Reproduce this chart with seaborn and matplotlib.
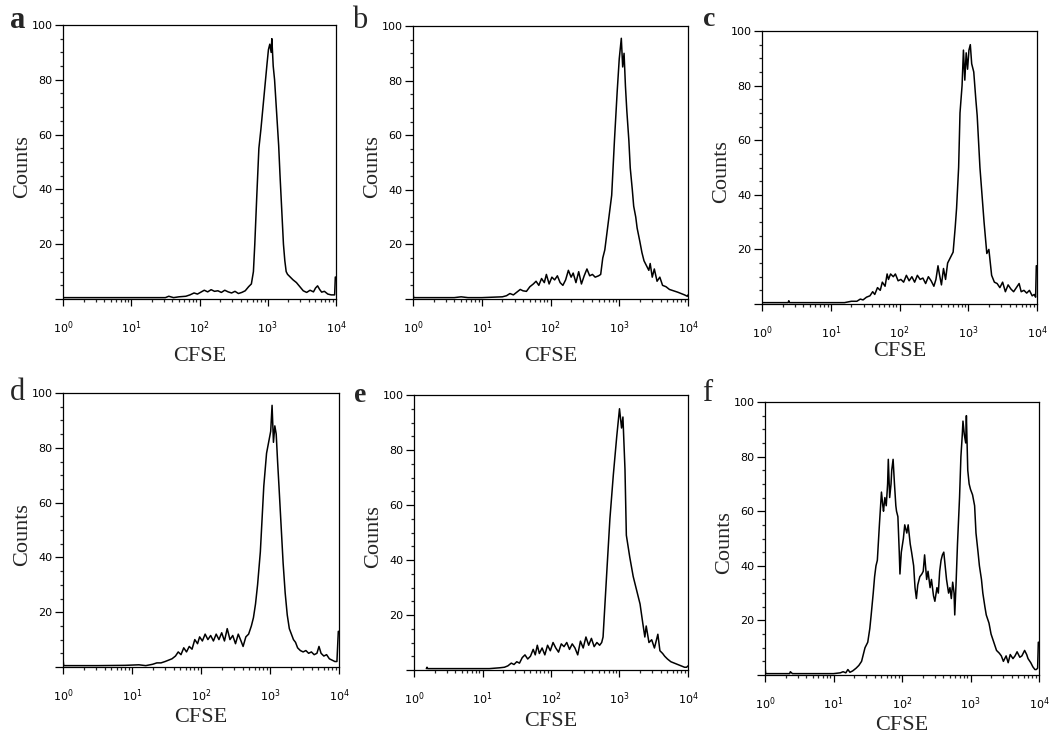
import numpy as np
import matplotlib
matplotlib.use('Agg')
import matplotlib.pyplot as plt
import seaborn as sns
from matplotlib.ticker import FixedLocator, NullFormatter

# CFSE channel given in decades (log10 of intensity), counts
a_log = [0.00, 1.50, 1.55, 1.62, 1.70, 1.80, 1.86, 1.92, 1.97, 2.02,
         2.07, 2.12, 2.17, 2.22, 2.27, 2.32, 2.37, 2.42, 2.47, 2.52,
         2.57, 2.62, 2.67, 2.72, 2.76, 2.79, 2.81, 2.84, 2.87, 2.90,
         2.93, 2.96, 2.99, 3.01, 3.03, 3.05, 3.06, 3.08, 3.10, 3.13,
         3.16, 3.18, 3.21, 3.23, 3.25, 3.27, 3.29, 3.33, 3.37, 3.42,
         3.47, 3.52, 3.57, 3.62, 3.67, 3.70, 3.73, 3.76, 3.79, 3.83,
         3.88, 3.93, 3.98, 3.99, 4.00]
a_counts = [0.5, 0.5, 1.0, 0.5, 0.8, 1.0, 1.5, 2.2, 1.8, 2.5,
            3.2, 2.6, 3.4, 2.8, 3.0, 2.4, 3.2, 2.6, 2.2, 2.8,
            2.0, 2.4, 3.0, 4.5, 5.5, 10.0, 20.0, 38.0, 55.0, 62.0,
            70.0, 78.0, 86.0, 91.0, 93.0, 90.0, 95.0, 85.0, 80.0, 68.0,
            56.0, 45.0, 30.0, 20.0, 14.0, 10.0, 9.0, 8.0, 7.0, 6.0,
            4.5, 3.0, 2.4, 3.2, 2.6, 4.0, 4.8, 3.5, 2.5, 2.8,
            1.8, 1.5, 1.5, 8.0, 8.0]

b_log = [0.00, 0.01, 0.03, 0.60, 0.70, 0.80, 1.00, 1.30, 1.36, 1.41,
         1.46, 1.51, 1.56, 1.60, 1.65, 1.70, 1.75, 1.79, 1.83, 1.87,
         1.91, 1.94, 1.98, 2.02, 2.06, 2.10, 2.14, 2.18, 2.22, 2.26,
         2.30, 2.33, 2.37, 2.41, 2.45, 2.49, 2.53, 2.57, 2.61, 2.65,
         2.70, 2.73, 2.76, 2.79, 2.82, 2.85, 2.89, 2.93, 2.97, 3.00,
         3.03, 3.05, 3.07, 3.09, 3.11, 3.14, 3.16, 3.19, 3.21, 3.24,
         3.26, 3.30, 3.33, 3.36, 3.40, 3.43, 3.45, 3.48, 3.51, 3.55,
         3.59, 3.63, 3.68, 3.73, 3.79, 3.85, 3.90, 3.95, 3.99, 4.00]
b_counts = [2.0, 0.5, 0.5, 0.5, 0.8, 0.5, 0.5, 0.8, 1.2, 2.0,
            1.5, 2.5, 3.5, 3.0, 2.8, 4.5, 5.5, 6.5, 5.0, 7.5,
            6.0, 9.0, 5.5, 8.0, 7.0, 8.5, 6.0, 5.0, 7.0, 10.5,
            8.0, 9.5, 6.0, 10.0, 5.5, 8.5, 11.0, 8.5, 9.0, 8.0,
            8.5, 9.0, 15.0, 18.0, 24.0, 30.0, 38.0, 58.0, 76.0, 88.0,
            95.5, 85.0, 90.0, 78.0, 69.0, 58.0, 48.0, 40.0, 34.0, 30.0,
            26.0, 21.0, 17.0, 14.0, 12.0, 10.5, 13.0, 8.0, 11.0, 6.5,
            8.0, 5.0, 4.5, 3.5, 3.0, 2.5, 2.0, 1.5, 1.0, 1.5]

c_log = [0.00, 0.38, 0.39, 0.40, 1.20, 1.30, 1.38, 1.43, 1.47, 1.52,
         1.57, 1.61, 1.64, 1.68, 1.72, 1.75, 1.79, 1.82, 1.84, 1.87,
         1.91, 1.94, 1.98, 2.02, 2.06, 2.10, 2.14, 2.18, 2.22, 2.26,
         2.30, 2.34, 2.38, 2.42, 2.46, 2.50, 2.53, 2.56, 2.58, 2.61,
         2.64, 2.67, 2.70, 2.74, 2.78, 2.81, 2.83, 2.86, 2.88, 2.91,
         2.93, 2.95, 2.97, 2.99, 3.01, 3.03, 3.05, 3.08, 3.11, 3.13,
         3.17, 3.20, 3.23, 3.27, 3.30, 3.34, 3.38, 3.42, 3.46, 3.50,
         3.54, 3.58, 3.62, 3.66, 3.70, 3.74, 3.77, 3.81, 3.85, 3.89,
         3.93, 3.96, 3.98, 3.99, 4.00]
c_counts = [0.5, 0.5, 1.2, 0.5, 0.5, 1.0, 1.0, 1.8, 1.5, 2.5,
            3.0, 4.5, 3.5, 6.0, 5.0, 8.0, 6.5, 11.0, 9.0, 11.0,
            10.0, 11.0, 8.5, 9.0, 8.0, 10.5, 8.5, 10.0, 8.0, 10.5,
            9.0, 9.5, 7.5, 10.0, 8.5, 6.5, 9.0, 14.0, 11.0, 7.0,
            13.0, 9.0, 15.0, 17.0, 19.0, 28.0, 35.0, 50.0, 70.0, 80.0,
            93.0, 82.0, 92.0, 86.0, 93.0, 95.0, 88.0, 85.0, 75.0, 69.0,
            50.0, 40.0, 30.0, 18.5, 20.0, 10.5, 8.0, 7.5, 6.0, 8.0,
            4.5, 7.0, 5.5, 4.5, 6.0, 7.5, 4.5, 5.0, 4.0, 5.0,
            3.0, 3.5, 2.5, 14.0, 14.0]

d_log = [0.00, 0.01, 0.03, 0.50, 0.90, 1.10, 1.20, 1.30, 1.36, 1.42,
         1.48, 1.53, 1.58, 1.63, 1.67, 1.71, 1.75, 1.79, 1.83, 1.87,
         1.91, 1.95, 1.98, 2.02, 2.06, 2.10, 2.14, 2.18, 2.22, 2.26,
         2.30, 2.34, 2.38, 2.42, 2.46, 2.50, 2.54, 2.58, 2.61, 2.65,
         2.69, 2.73, 2.76, 2.79, 2.82, 2.86, 2.91, 2.95, 2.98, 3.01,
         3.03, 3.05, 3.07, 3.09, 3.11, 3.13, 3.16, 3.19, 3.22, 3.25,
         3.28, 3.31, 3.34, 3.37, 3.40, 3.44, 3.48, 3.52, 3.56, 3.60,
         3.64, 3.68, 3.71, 3.74, 3.78, 3.82, 3.86, 3.90, 3.94, 3.97,
         3.99, 4.00]
d_counts = [3.0, 0.5, 0.5, 0.5, 0.6, 0.8, 0.5, 1.0, 1.5, 1.5,
            2.0, 2.5, 3.0, 4.0, 5.5, 4.5, 7.0, 5.5, 7.5, 6.5,
            10.0, 8.5, 11.0, 9.5, 12.0, 10.0, 11.5, 9.5, 12.0, 10.0,
            12.5, 9.5, 14.0, 10.0, 11.5, 8.5, 12.0, 9.5, 7.5, 11.0,
            12.0, 15.0, 18.0, 23.0, 30.0, 42.0, 66.0, 78.0, 82.0, 86.0,
            95.5, 82.0, 88.0, 85.0, 75.0, 66.0, 52.0, 38.0, 27.0, 19.0,
            14.0, 12.0, 10.0, 9.0, 7.0, 6.0, 5.5, 6.0, 5.0, 5.5,
            4.5, 5.0, 7.5, 5.0, 4.0, 4.5, 3.0, 2.5, 2.0, 2.0,
            13.0, 13.0]

e_log = [0.18, 0.19, 0.20, 0.95, 1.10, 1.25, 1.32, 1.37, 1.42, 1.46,
         1.50, 1.54, 1.58, 1.62, 1.66, 1.70, 1.74, 1.77, 1.80, 1.83,
         1.87, 1.91, 1.95, 1.99, 2.03, 2.07, 2.11, 2.15, 2.19, 2.23,
         2.27, 2.31, 2.35, 2.39, 2.43, 2.47, 2.51, 2.55, 2.59, 2.63,
         2.67, 2.71, 2.74, 2.76, 2.79, 2.82, 2.86, 2.91, 2.96, 3.00,
         3.03, 3.05, 3.08, 3.10, 3.15, 3.20, 3.25, 3.30, 3.34, 3.37,
         3.39, 3.43, 3.47, 3.51, 3.56, 3.59, 3.63, 3.66, 3.70, 3.75,
         3.80, 3.85, 3.90, 3.95, 3.98, 4.00]
e_counts = [0.5, 1.0, 0.5, 0.5, 0.5, 0.8, 1.0, 1.5, 2.5, 2.0,
            3.0, 2.5, 4.5, 5.5, 4.0, 5.0, 7.5, 5.5, 9.0, 6.0,
            8.0, 5.5, 9.0, 7.0, 10.0, 8.0, 6.5, 9.5, 8.5, 10.0,
            7.5, 9.5, 8.0, 5.5, 10.5, 8.0, 12.0, 9.0, 11.5, 8.5,
            10.0, 9.0, 10.0, 12.0, 25.0, 38.0, 55.0, 71.0, 85.0, 95.0,
            88.0, 92.0, 73.0, 49.0, 41.0, 34.0, 29.0, 24.0, 17.0, 12.0,
            16.0, 10.0, 11.0, 8.0, 13.0, 7.0, 6.0, 5.0, 4.0, 3.0,
            2.5, 2.0, 1.5, 1.0, 1.0, 1.5]

f_log = [0.00, 0.01, 0.03, 0.36, 0.37, 0.40, 1.00, 1.10, 1.14, 1.18,
         1.21, 1.24, 1.28, 1.33, 1.37, 1.41, 1.44, 1.46, 1.50, 1.53,
         1.55, 1.58, 1.60, 1.62, 1.64, 1.67, 1.70, 1.72, 1.73, 1.75,
         1.77, 1.79, 1.80, 1.82, 1.84, 1.85, 1.87, 1.89, 1.91, 1.92,
         1.94, 1.96, 1.97, 1.99, 2.02, 2.04, 2.07, 2.09, 2.12, 2.14,
         2.17, 2.19, 2.21, 2.23, 2.26, 2.29, 2.31, 2.33, 2.36, 2.38,
         2.41, 2.43, 2.46, 2.48, 2.51, 2.53, 2.55, 2.57, 2.59, 2.61,
         2.63, 2.65, 2.68, 2.70, 2.72, 2.74, 2.76, 2.77, 2.79, 2.81,
         2.84, 2.86, 2.88, 2.89, 2.91, 2.93, 2.94, 2.96, 2.98, 3.00,
         3.03, 3.06, 3.08, 3.11, 3.13, 3.16, 3.18, 3.21, 3.23, 3.27,
         3.30, 3.34, 3.38, 3.42, 3.45, 3.48, 3.52, 3.55, 3.58, 3.62,
         3.65, 3.68, 3.72, 3.75, 3.79, 3.82, 3.84, 3.88, 3.91, 3.94,
         3.96, 3.98, 3.99, 4.00]
f_counts = [3.0, 0.5, 0.5, 0.5, 1.2, 0.5, 0.5, 0.8, 1.2, 0.8,
            2.0, 1.0, 1.5, 2.5, 3.5, 5.0, 8.0, 10.0, 12.0, 17.0,
            22.0, 30.0, 36.0, 40.0, 42.0, 55.0, 67.0, 62.0, 60.0, 65.0,
            62.0, 70.0, 79.0, 65.0, 70.0, 75.0, 79.0, 70.0, 62.0, 60.0,
            58.0, 45.0, 37.0, 45.0, 50.0, 55.0, 52.0, 55.0, 48.0, 45.0,
            40.0, 32.0, 28.0, 33.0, 36.0, 37.0, 38.0, 44.0, 35.0, 38.0,
            32.0, 35.0, 29.0, 27.0, 32.0, 30.0, 38.0, 42.0, 44.0, 45.0,
            40.0, 35.0, 30.0, 32.0, 28.0, 34.0, 30.0, 22.0, 34.0, 48.0,
            65.0, 80.0, 88.0, 93.0, 88.0, 85.0, 95.0, 75.0, 70.0, 68.0,
            66.0, 62.0, 52.0, 45.0, 40.0, 35.0, 30.0, 25.0, 22.0, 19.0,
            15.0, 12.0, 9.0, 8.0, 7.0, 5.0, 7.0, 4.5, 7.5, 6.0,
            7.0, 8.5, 6.5, 7.0, 9.0, 7.5, 6.0, 4.5, 3.0, 2.0,
            2.0, 2.5, 12.0, 12.0]

panel_letters = ['a', 'b', 'c', 'd', 'e', 'f']
panel_data = [(a_log, a_counts), (b_log, b_counts), (c_log, c_counts),
              (d_log, d_counts), (e_log, e_counts), (f_log, f_counts)]
y_ticks = [0, 20, 40, 60, 80, 100]
y_tick_labels = ['', '20', '40', '60', '80', '100']
x_ticks = [1, 10, 100, 1000, 10000]
x_tick_labels = [r'$\mathdefault{10^{0}}$', r'$\mathdefault{10^{1}}$', r'$\mathdefault{10^{2}}$',
                 r'$\mathdefault{10^{3}}$', r'$\mathdefault{10^{4}}$']
x_minor = [m * 10 ** k for k in range(4) for m in range(2, 10)]

# layout, in pixels of the 1050x746 figure: axes box (left, top, right, bottom)
W, H = 1050, 746
boxes = {
    'a': (63, 25, 336, 299),
    'b': (413, 26, 688, 299),
    'c': (762, 31, 1037, 304),
    'd': (63, 393, 339, 667),
    'e': (414, 395, 688, 670),
    'f': (765, 402, 1039, 675),
}
# panel letter: (left, baseline) in pixels, size, weight
letter_style = {'a': (10, 28, 22, 'bold'), 'b': (352, 28, 22, 'normal'),
                'c': (703, 26, 20, 'bold'), 'd': (10, 400, 22, 'normal'),
                'e': (354, 402, 20, 'bold'), 'f': (702, 401, 22, 'normal')}
xlabel_y = {'a': -0.175, 'b': -0.175, 'c': -0.140, 'd': -0.150, 'e': -0.152, 'f': -0.151}

sns.set_style('ticks')
plt.rcParams['font.family'] = ['DejaVu Sans']
plt.rcParams['axes.linewidth'] = 0.9
plt.rcParams['axes.edgecolor'] = 'black'

fig = plt.figure(figsize=(W / 100, H / 100), dpi=100)

for letter, (logs, counts) in zip(panel_letters, panel_data):
    left, top, right, bottom = boxes[letter]
    ax = fig.add_axes([left / W, 1 - bottom / H, (right - left) / W, (bottom - top) / H])

    sns.lineplot(x=np.power(10.0, logs), y=counts, ax=ax, color='black',
                 linewidth=1.1, estimator=None, sort=False)

    ax.set_xscale('log')
    ax.set_xlim(1, 10000)
    ax.set_ylim(0, 100)

    for side in ['top', 'right', 'left', 'bottom']:
        ax.spines[side].set_visible(True)
        ax.spines[side].set_color('black')

    ax.set_xticks(x_ticks)
    ax.set_xticklabels(x_tick_labels)
    ax.xaxis.set_minor_locator(FixedLocator(x_minor))
    ax.xaxis.set_minor_formatter(NullFormatter())
    ax.set_yticks(y_ticks)
    ax.set_yticklabels(y_tick_labels)
    ax.yaxis.set_minor_locator(FixedLocator(list(range(0, 101, 5))))

    ax.tick_params(axis='x', which='major', direction='out', length=5, width=0.9,
                   pad=10, labelsize=8, colors='black')
    ax.tick_params(axis='x', which='minor', direction='out', length=2.5, width=0.9)
    ax.tick_params(axis='y', which='major', direction='out', length=6, width=0.9,
                   pad=1.5, labelsize=8, colors='black')
    ax.tick_params(axis='y', which='minor', direction='out', length=2, width=0.9)
    ax.tick_params(top=False, right=False)

    ax.set_xlabel('CFSE', fontfamily='Liberation Serif', fontsize=16)
    ax.set_ylabel('Counts', fontfamily='Liberation Serif', fontsize=16)
    ax.xaxis.set_label_coords(0.5, xlabel_y[letter])
    ax.yaxis.set_label_coords(-0.112, 0.485)

    lx, ly, size, weight = letter_style[letter]
    fig.text(lx / W, 1 - ly / H, letter, fontfamily='Liberation Serif', fontsize=size,
             fontweight=weight, ha='left', va='baseline')

fig.savefig('out.png', dpi=100)
